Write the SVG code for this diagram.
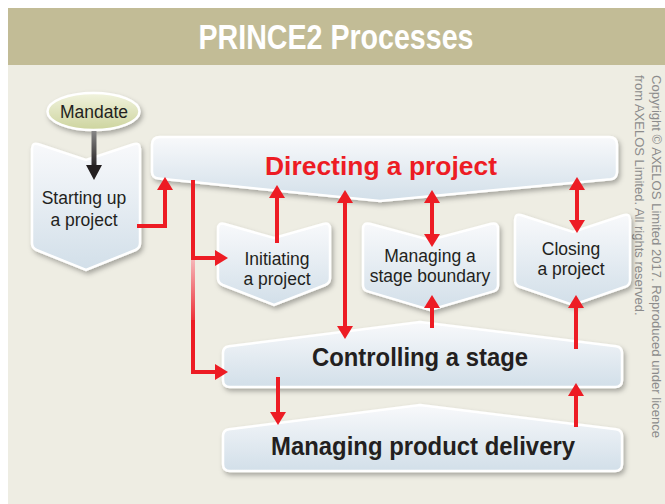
<svg xmlns="http://www.w3.org/2000/svg" width="665" height="504" viewBox="0 0 665 504">
<defs>
<linearGradient id="boxg" x1="0" y1="0" x2="0" y2="1">
<stop offset="0" stop-color="#f8f9fb"/>
<stop offset="1" stop-color="#d2dfe9"/>
</linearGradient>
<linearGradient id="ellg" x1="0" y1="0" x2="0" y2="1">
<stop offset="0" stop-color="#f1f3de"/>
<stop offset="1" stop-color="#cdd49e"/>
</linearGradient>
<linearGradient id="blk" gradientUnits="userSpaceOnUse" x1="0" y1="130" x2="0" y2="168">
<stop offset="0" stop-color="#8a8a8a"/>
<stop offset="1" stop-color="#231f20"/>
</linearGradient>
<linearGradient id="fade" gradientUnits="userSpaceOnUse" x1="0" y1="258" x2="0" y2="330">
<stop offset="0" stop-color="#f6b9bb"/>
<stop offset="0.5" stop-color="#f06a70"/>
<stop offset="1" stop-color="#ed1c24"/>
</linearGradient>
<filter id="sh" x="-10%" y="-10%" width="125%" height="135%">
<feDropShadow dx="2" dy="3" stdDeviation="2.5" flood-color="#000" flood-opacity="0.3"/>
</filter>
<marker id="ar" viewBox="0 0 13 16" markerWidth="13" markerHeight="16" refX="0" refY="8" orient="auto-start-reverse" markerUnits="userSpaceOnUse">
<path d="M0,0 L13,8 L0,16 Z" fill="#ed1c24"/>
</marker>
<marker id="ab" viewBox="0 0 15 16" markerWidth="15" markerHeight="16" refX="0" refY="8" orient="auto" markerUnits="userSpaceOnUse">
<path d="M0,0 L15,8 L0,16 Z" fill="#231f20"/>
</marker>
<style>
.box{fill:url(#boxg);stroke:#ffffff;stroke-width:2.5;filter:url(#sh)}
.lbl{font-family:"Liberation Sans",Arial,sans-serif;font-size:17.5px;fill:#231f20;text-anchor:middle}
.big{font-family:"Liberation Sans",Arial,sans-serif;font-weight:bold;font-size:26px;fill:#231f20;text-anchor:middle}
.red{fill:none;stroke:#ed1c24;stroke-width:4}
.copy{font-family:"Liberation Sans",Arial,sans-serif;font-size:13px;fill:#8c8c8c}
</style>
</defs>

<rect x="8" y="65" width="657" height="439" fill="#eeede3"/>
<rect x="8" y="8" width="657" height="57" fill="#c2bc96"/>
<text x="336" y="49" font-family="'Liberation Sans Narrow','Liberation Sans',Arial,sans-serif" font-weight="bold" font-size="35" fill="#ffffff" text-anchor="middle" textLength="275" lengthAdjust="spacingAndGlyphs">PRINCE2 Processes</text>

<g class="copy">
<text transform="translate(651.5,75) rotate(90)" textLength="363" lengthAdjust="spacingAndGlyphs">Copyright © AXELOS Limited 2017. Reproduced under licence</text>
<text transform="translate(635,75) rotate(90)">from AXELOS Limited. All rights reserved.</text>
</g>

<g id="mandate">
<ellipse cx="93.5" cy="111.5" rx="46" ry="18.5" fill="url(#ellg)" stroke="#ffffff" stroke-width="2.5" filter="url(#sh)"/>
<text class="lbl" x="94" y="118">Mandate</text>
</g>

<g id="starting-up">
<path class="box" d="M32,149 Q32,142 38.6,144.2 L86,160 L133.4,144.2 Q140,142 140,149 V243 Q140,248 135.5,250 L86,270 L36.5,250 Q32,248 32,243 Z"/>
<text class="lbl" x="84" y="204">Starting up</text>
<text class="lbl" x="84" y="226">a project</text>
</g>

<g id="directing">
<path class="box" d="M160,137 H609 Q617,137 617,145 V172 Q617,178.5 610.5,179.3 L380,201 L158.5,178.6 Q152,178 152,171.5 V145 Q152,137 160,137 Z"/>
<text x="381" y="175" font-family="'Liberation Sans',Arial,sans-serif" font-weight="bold" font-size="26.5" fill="#ed1c24" text-anchor="middle" textLength="232" lengthAdjust="spacingAndGlyphs">Directing a project</text>
</g>

<g id="initiating">
<path class="box" d="M218,229 Q218,222 224.7,224 L274,238 L323.3,224 Q330,222 330,229 V278 Q330,283 325.3,285 L274,305 L222.7,285 Q218,283 218,278 Z"/>
<text class="lbl" x="277" y="265">Initiating</text>
<text class="lbl" x="277" y="285">a project</text>
</g>

<g id="stage-boundary">
<path class="box" d="M363,229 Q363,222 369.8,223.8 L430,240 L491.2,223.8 Q498,222 498,229 V285 Q498,290 493.3,291.4 L430,310 L367.7,291.4 Q363,290 363,285 Z"/>
<text class="lbl" x="430" y="262">Managing a</text>
<text class="lbl" x="430" y="282">stage boundary</text>
</g>

<g id="closing">
<path class="box" d="M515,220 Q515,213 521.6,215.2 L573,232 L623.4,215.2 Q630,213 630,220 V280 Q630,285 625.3,286.8 L573,305 L519.7,286.8 Q515,285 515,280 Z"/>
<text class="lbl" x="571" y="255">Closing</text>
<text class="lbl" x="571" y="275">a project</text>
</g>

<g id="controlling">
<path class="box" d="M223,353 Q223,347 229,346.2 L420,322 L616,346.2 Q622,347 622,353 V380 Q622,387 615,387 H230 Q223,387 223,380 Z"/>
<text class="big" x="420" y="366" font-size="25" textLength="216" lengthAdjust="spacingAndGlyphs">Controlling a stage</text>
</g>

<g id="product-delivery">
<path class="box" d="M223,436 Q223,430 229,429.2 L420,405 L616,429.2 Q622,430 622,436 V464 Q622,471 615,471 H230 Q223,471 223,464 Z"/>
<text class="big" x="423" y="455" textLength="304" lengthAdjust="spacingAndGlyphs">Managing product delivery</text>
</g>

<g id="connectors">
<line x1="94" y1="131" x2="94" y2="165" stroke="url(#blk)" stroke-width="5" marker-end="url(#ab)"/>
<path class="red" d="M137,226 H165 V190" marker-end="url(#ar)"/>
<line class="red" x1="193" y1="180" x2="193" y2="260"/>
<path d="M193,258 V372 H215" fill="none" stroke="url(#fade)" stroke-width="4" marker-end="url(#ar)"/>
<path class="red" d="M191,258 H215" marker-end="url(#ar)"/>
<path class="red" d="M193,320 V372 H215"/>
<line class="red" x1="277" y1="243" x2="277" y2="198" marker-end="url(#ar)"/>
<line class="red" x1="345" y1="203" x2="345" y2="326" marker-start="url(#ar)" marker-end="url(#ar)"/>
<line class="red" x1="432" y1="203" x2="432" y2="234" marker-start="url(#ar)" marker-end="url(#ar)"/>
<line class="red" x1="577" y1="190" x2="577" y2="220" marker-start="url(#ar)" marker-end="url(#ar)"/>
<line class="red" x1="432" y1="328" x2="432" y2="308" marker-end="url(#ar)"/>
<line class="red" x1="576" y1="349" x2="576" y2="308" marker-end="url(#ar)"/>
<line class="red" x1="278" y1="377" x2="278" y2="412" marker-end="url(#ar)"/>
<line class="red" x1="576" y1="427" x2="576" y2="396" marker-end="url(#ar)"/>
</g>
</svg>
